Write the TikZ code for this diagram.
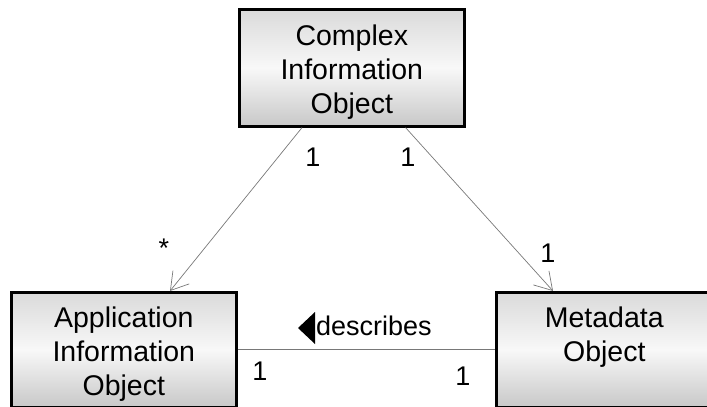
\documentclass[tikz,border=0pt]{standalone}
\usepackage{fontspec}
\setmainfont{Liberation Sans}
\usetikzlibrary{arrows.meta}
\definecolor{boxtop}{RGB}{218,218,218}
\definecolor{boxmid}{RGB}{248,248,248}
\definecolor{boxbot}{RGB}{200,200,200}
\definecolor{linegray}{RGB}{120,120,120}
\tikzset{
  classbox/.style={draw=black, line width=2.6pt, rectangle, inner sep=0pt,
    top color=boxtop, bottom color=boxbot, middle color=boxmid, anchor=north west},
  boxtext/.style={font=\fontsize{28.5}{34}\selectfont, align=center, inner sep=0pt, anchor=north},
  lbl/.style={font=\fontsize{27}{30}\selectfont, inner sep=0pt, anchor=base},
  assoc/.style={draw=linegray, line width=0.7pt},
  navarrow/.style={-{Straight Barb[length=17pt,width=21pt,line width=0.7pt]}}
}
\begin{document}
\begin{tikzpicture}[x=1pt,y=-1pt]
\useasboundingbox (0,0) rectangle (707,407);
\clip (0,0) rectangle (707,407);
% boxes
\node[classbox, minimum width=225pt, minimum height=117pt] (cio) at (238,8) {};
\node[classbox, minimum width=225pt, minimum height=115pt] (aio) at (10,291) {};
\node[classbox, minimum width=216pt, minimum height=115pt] (mo) at (495,291) {};
% texts
\node[boxtext] (ciot) at ([yshift=-17pt]cio.north) {Complex\\Information\\Object};
\node[boxtext] (aiot) at ([yshift=-16pt]aio.north) {Application\\Information\\Object};
\node[boxtext] (mot) at ([yshift=-16pt]mo.north) {Metadata\\Object};
% connectors
\draw[assoc, navarrow] ([xshift=64pt]cio.south west) -- ([xshift=160pt]aio.north west);
\draw[assoc, navarrow] ([xshift=-60pt]cio.south east) -- ([xshift=58pt]mo.north west);
\draw[assoc] ([yshift=-58pt]aio.north east) -- ([yshift=-58pt]mo.north west);
% multiplicities
\node[lbl] (m1) at (313,166) {1};
\node[lbl] (m2) at (408,166) {1};
\node[lbl] (m3) at (164,257) {*};
\node[lbl] (m4) at (548,262) {1};
\node[lbl] (m5) at (260,380) {1};
\node[lbl] (m6) at (463,385) {1};
% association name
\fill (298,328) -- (315,312) -- (315,344) -- cycle;
\node[lbl, anchor=base west] (desc) at (316,335) {describes};
\end{tikzpicture}
\end{document}
